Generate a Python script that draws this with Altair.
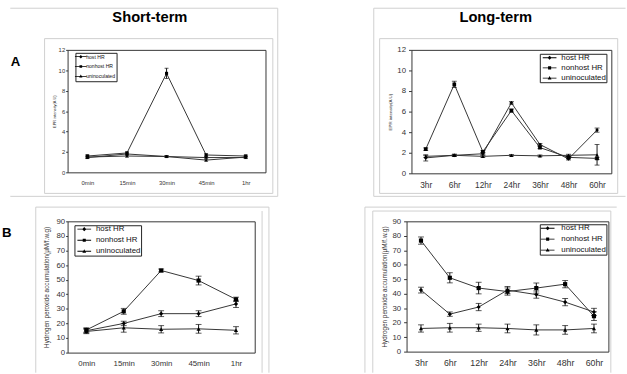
import altair as alt
import pandas as pd

FONT = "Liberation Sans"
SERIES = ["host HR", "nonhost HR", "uninoculated"]
SHORT = ["0min", "15min", "30min", "45min", "1hr"]
LONG = ["3hr", "6hr", "12hr", "24hr", "36hr", "48hr", "60hr"]

# ---- A: EPR intensity, short-term ----
epr_short_host = [1.5, 1.6, 1.55, 1.45, 1.45]
epr_short_host_err = [0.12, 0.12, 0.1, 0.12, 0.1]
epr_short_nonhost = [1.6, 1.9, 9.7, 1.7, 1.6]
epr_short_nonhost_err = [0.12, 0.1, 0.5, 0.12, 0.1]
epr_short_unin = [1.45, 1.8, 1.55, 1.2, 1.5]
epr_short_unin_err = [0.1, 0.1, 0.1, 0.1, 0.1]

# ---- A: EPR intensity, long-term ----
epr_long_host = [1.5, 1.75, 1.9, 6.85, 2.8, 1.4, 4.2]
epr_long_host_err = [0.3, 0.1, 0.1, 0.12, 0.1, 0.1, 0.2]
epr_long_nonhost = [2.35, 8.65, 2.1, 6.1, 2.5, 1.55, 1.45]
epr_long_nonhost_err = [0.12, 0.3, 0.1, 0.15, 0.1, 0.1, 0.1]
epr_long_unin = [1.65, 1.75, 1.65, 1.75, 1.7, 1.75, 1.8]
epr_long_unin_err = [0.1, 0.1, 0.1, 0.08, 0.08, 0.1, 1.0]

# ---- B: hydrogen peroxide, short-term ----
h2o2_short_host = [15, 20, 26.7, 26.7, 33.4]
h2o2_short_host_err = [1.5, 1.5, 2, 2, 2.5]
h2o2_short_nonhost = [15.5, 28.3, 56.3, 49.4, 36.5]
h2o2_short_nonhost_err = [1.5, 2, 1, 3, 1.5]
h2o2_short_unin = [14.5, 17, 16, 16.3, 15.3]
h2o2_short_unin_err = [1.5, 3, 2.5, 3, 2.5]

# ---- B: hydrogen peroxide, long-term ----
h2o2_long_host = [42.5, 25.9, 30.8, 42.5, 39.4, 34.2, 27.4]
h2o2_long_host_err = [2, 1.5, 2.5, 2.5, 2.5, 2.5, 2.5]
h2o2_long_nonhost = [76.7, 51, 43.9, 41.5, 43.9, 46.6, 24.5]
h2o2_long_nonhost_err = [2.5, 3.5, 4, 2.5, 3.5, 2.5, 3]
h2o2_long_unin = [16, 16.5, 16.5, 16, 15, 15, 16]
h2o2_long_unin_err = [2.5, 3, 2.5, 3, 3.5, 3, 3]

EPR_TITLE = "EPR intensity(A.U)"
H2O2_TITLE = "Hydrogen peroxide accumulation(\u03bcM/f.w.g)"

POINT_SHAPES = ["diamond", "square", "triangle-up"]
BAR = "M-2,-0.13H2V0.13H-2Z"
LEGEND_SHAPES = [
    BAR + "M0,-0.6L0.6,0L0,0.6L-0.6,0Z",
    BAR + "M-0.45,-0.45H0.45V0.45H-0.45Z",
    BAR + "M0,-0.6L0.55,0.4H-0.55Z",
]

ONE = pd.DataFrame({"k": [0]})
FRAME = "#cfcfcf"
LABEL = "#333"


def rule(p, o, color=FRAME, opacity=1):
    (x1, y1, x2, y2), (ox, oy) = p, o
    return alt.Chart(ONE).mark_rule(color=color, strokeWidth=1, opacity=opacity).encode(
        x=alt.value(x1 - ox), x2=alt.value(x2 - ox), y=alt.value(y1 - oy), y2=alt.value(y2 - oy))


def box(p, o, color=FRAME, opacity=1):
    (x1, y1, x2, y2), (ox, oy) = p, o
    return alt.Chart(ONE).mark_rect(fill=None, stroke=color, strokeWidth=1, opacity=opacity).encode(
        x=alt.value(x1 - ox), x2=alt.value(x2 - ox), y=alt.value(y1 - oy), y2=alt.value(y2 - oy))


def anchor(p, o):
    (x1, y1, x2, y2), (ox, oy) = p, o
    return alt.Chart(ONE).mark_rect(opacity=0, fill="white").encode(
        x=alt.value(x1 - ox), x2=alt.value(x2 - ox), y=alt.value(y1 - oy), y2=alt.value(y2 - oy))


def label(txt, x, y, o, size, align="center"):
    ox, oy = o
    return alt.Chart(ONE).mark_text(text=txt, font=FONT, fontSize=size, fontWeight="bold",
                                    align=align, baseline="alphabetic", color="black").encode(
        x=alt.value(x - ox), y=alt.value(y - oy))


def panel(cats, data, ymax, ystep, ytitle, origin, size, st, decor):
    ox, oy = origin
    w, h = size
    rows = []
    for s, (vals, errs) in zip(SERIES, data):
        for i, (c, v, e) in enumerate(zip(cats, vals, errs)):
            rows.append({"cat": c, "idx": i, "series": s, "value": v, "err": e})
    df = pd.DataFrame(rows)
    base = alt.Chart(df).transform_calculate(lo="datum.value - datum.err",
                                             hi="datum.value + datum.err")
    xax = alt.Axis(labelFontSize=st["xfs"], labelPadding=st["xpad"], ticks=False, domain=False,
                   labelAngle=0, labelColor=LABEL, labelFont=FONT, labelFontWeight="normal")
    xsc = alt.Scale(type="point", padding=0.5)
    ysc = alt.Scale(domain=[0, ymax], nice=False)
    yax = alt.Axis(values=list(range(0, ymax + 1, ystep)), labelFontSize=st["yfs"],
                   labelPadding=st["ypad"], tickSize=st["tick"], tickColor="#333", domain=False,
                   grid=False, labelColor=LABEL, labelFont=FONT, labelFontWeight="normal",
                   titleFont=FONT, titleFontSize=st["tfs"], titleFontWeight="normal",
                   titleColor="#333", titleX=st["tx"] - ox, titleY=h / 2,
                   titleBaseline="middle", titleAngle=270)

    X = alt.X("cat:N", sort=cats, scale=xsc, axis=xax, title=None)

    def Y(f):
        return alt.Y(f, scale=ysc, axis=yax, title=ytitle)

    line = base.mark_line(color="#333", strokeWidth=1).encode(
        x=X, y=Y("value:Q"), detail="series:N", order="idx:Q")
    bar = base.mark_rule(color="#111", strokeWidth=1).encode(x=X, y=Y("lo:Q"), y2="hi:Q")
    cap_lo = base.mark_tick(color="#111", thickness=1, size=st["cap"]).encode(x=X, y=Y("lo:Q"))
    cap_hi = base.mark_tick(color="#111", thickness=1, size=st["cap"]).encode(x=X, y=Y("hi:Q"))
    pts = base.mark_point(filled=True, color="black", size=st["ms"], opacity=1).encode(
        x=X, y=Y("value:Q"),
        shape=alt.Shape("series:N", scale=alt.Scale(domain=SERIES, range=POINT_SHAPES), legend=None))
    L = st["L"]
    leg = base.mark_point(filled=True, color="black", opacity=0, size=L * L / 4).encode(
        x=X, y=Y("value:Q"),
        shape=alt.Shape("series:N", scale=alt.Scale(domain=SERIES, range=LEGEND_SHAPES),
                        legend=alt.Legend(orient="none", legendX=st["lx"] - ox, legendY=st["ly"] - oy,
                                          direction="vertical", title=None, labelFont=FONT,
                                          labelFontSize=st["lfs"], labelColor="#111",
                                          symbolSize=L * L / 4, symbolStrokeWidth=0,
                                          symbolFillColor="black", symbolOpacity=1,
                                          strokeColor="#222", fillColor="white",
                                          padding=st["lpad"], rowPadding=st["lrow"],
                                          symbolOffset=st["so"], labelOffset=st["lo"],
                                          labelLimit=0)))
    layers = [anchor(decor["anchor"], origin)]
    layers += [rule(r, origin) for r in decor.get("rules", [])]
    layers += [box(b, origin) for b in decor.get("boxes", [])]
    layers += [label(*t[:3], origin, *t[3:]) for t in decor.get("texts", [])]
    layers += [line, bar, cap_lo, cap_hi, pts, leg]
    return alt.layer(*layers).resolve_scale(shape="independent").properties(width=w, height=h)


TL = panel(SHORT,
           [(epr_short_host, epr_short_host_err), (epr_short_nonhost, epr_short_nonhost_err),
            (epr_short_unin, epr_short_unin_err)],
           12, 2, EPR_TITLE, (59, 46), (202, 125),
           dict(xfs=6, xpad=7, yfs=6, ypad=1, tick=2, tfs=4, tx=46, cap=4, ms=10, L=12,
                lx=67, ly=49, lfs=5.2, lpad=1, lrow=3, so=1.5, lo=2.5),
           dict(anchor=(0, 3, 274, 196),
                rules=[(0.5, 3.5, 273.5, 3.5), (273.5, 3.5, 273.5, 195.5), (0.5, 195.5, 273.5, 195.5)],
                boxes=[(35.5, 34.5, 268.5, 192.5)],
                texts=[("Short-term", 143, 17.5, 15), ("A", 1, 62, 13.5, "left")]))

TR = panel(LONG,
           [(epr_long_host, epr_long_host_err), (epr_long_nonhost, epr_long_nonhost_err),
            (epr_long_unin, epr_long_unin_err)],
           12, 2, EPR_TITLE, (408, 46), (204, 126),
           dict(xfs=8.5, xpad=7, yfs=8, ypad=3, tick=3, tfs=4.5, tx=387, cap=5, ms=14, L=14,
                lx=539, ly=50, lfs=8, lpad=0, lrow=2.4, so=6, lo=8),
           dict(anchor=(369, 3, 627, 196),
                rules=[(369.5, 3.5, 369.5, 195.5), (369.5, 3.5, 626.5, 3.5), (369.5, 195.5, 626.5, 195.5)],
                boxes=[(375.5, 34.5, 618.5, 192.5)],
                texts=[("Long-term", 494, 17.5, 15)]))

BL = panel(SHORT,
           [(h2o2_short_host, h2o2_short_host_err), (h2o2_short_nonhost, h2o2_short_nonhost_err),
            (h2o2_short_unin, h2o2_short_unin_err)],
           90, 10, H2O2_TITLE, (68, 219), (191, 134),
           dict(xfs=8, xpad=7, yfs=8, ypad=1, tick=2, tfs=6.5, tx=47, cap=6, ms=18, L=14,
                lx=75, ly=223, lfs=8, lpad=0, lrow=3.3, so=6, lo=8),
           dict(anchor=(0, 204, 274, 374),
                rules=[(35.5, 204.5, 273.5, 204.5), (273.5, 204.5, 273.5, 373.5),
                       (35.5, 204.5, 35.5, 373.5), (266.5, 208.5, 266.5, 373.5)],
                texts=[("B", 1, 235, 13.5, "left")]))

BR = panel(LONG,
           [(h2o2_long_host, h2o2_long_host_err), (h2o2_long_nonhost, h2o2_long_nonhost_err),
            (h2o2_long_unin, h2o2_long_unin_err)],
           90, 10, H2O2_TITLE, (412, 219), (206, 133),
           dict(xfs=9, xpad=7, yfs=8, ypad=3, tick=3, tfs=6.5, tx=390, cap=6, ms=18, L=14,
                lx=548, ly=222, lfs=8, lpad=0, lrow=3.2, so=4, lo=10),
           dict(anchor=(369, 204, 627, 374),
                rules=[(369.5, 204.5, 369.5, 373.5), (369.5, 204.5, 626.5, 204.5),
                       (377.5, 208.5, 377.5, 373.5), (377.5, 208.5, 620.5, 208.5),
                       (620.5, 208.5, 620.5, 373.5)]))

top = alt.hconcat(TL, TR, spacing=95).resolve_scale(shape="independent")
bottom = alt.hconcat(BL, BR, spacing=95).resolve_scale(shape="independent")
chart = (alt.vconcat(top, bottom, spacing=8)
         .resolve_scale(shape="independent")
         .properties(padding={"left": 0, "top": 3, "right": 0, "bottom": 0}, background="white")
         .configure_view(stroke="#333", strokeWidth=1))

chart.save("out.html", embed_options={"renderer": "svg", "actions": False})
